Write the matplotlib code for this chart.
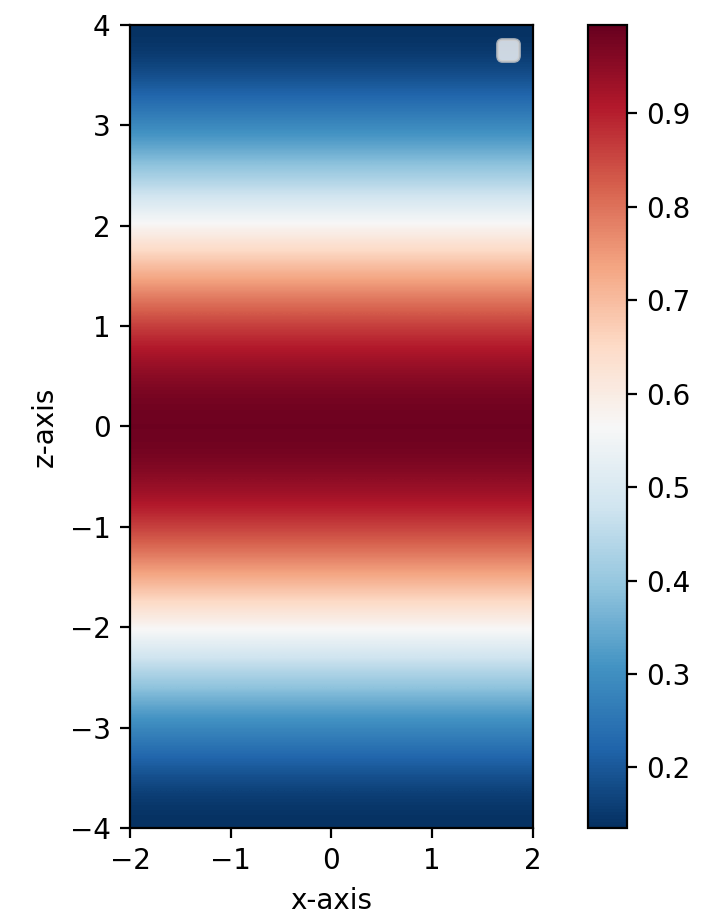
import numpy as np
import matplotlib.pyplot as plt

# intensity profile along z (same for every x)
z_vals = [-4.0, -3.5, -3.0, -2.5, -2.0, -1.5, -1.0, -0.5, 0.0,
          0.5, 1.0, 1.5, 2.0, 2.5, 3.0, 3.5, 4.0]
intensity = [0.135, 0.22, 0.325, 0.46, 0.61, 0.755, 0.88, 0.965, 0.995,
             0.965, 0.88, 0.755, 0.61, 0.46, 0.325, 0.22, 0.135]
x_range = [-2, 2]
n_x = 5

profile = np.array(intensity)
field = np.tile(profile[:, None], (1, n_x))

fig = plt.figure(figsize=(3.575, 4.585), dpi=200)
ax = fig.add_axes([0.182, 0.097, 0.563, 0.876])
cax = fig.add_axes([0.822, 0.097, 0.0545, 0.876])

im = ax.imshow(field, cmap="RdBu_r", origin="lower",
               extent=[x_range[0], x_range[1], z_vals[0], z_vals[-1]],
               interpolation="bicubic", aspect="auto")
ax.set_xlabel("x-axis")
ax.set_ylabel("z-axis")
ax.set_xticks([-2, -1, 0, 1, 2])
ax.set_yticks(range(-4, 5))
ax.legend(handles=[], loc="upper right")

fig.colorbar(im, cax=cax)

fig.savefig("out.png", dpi=200)
